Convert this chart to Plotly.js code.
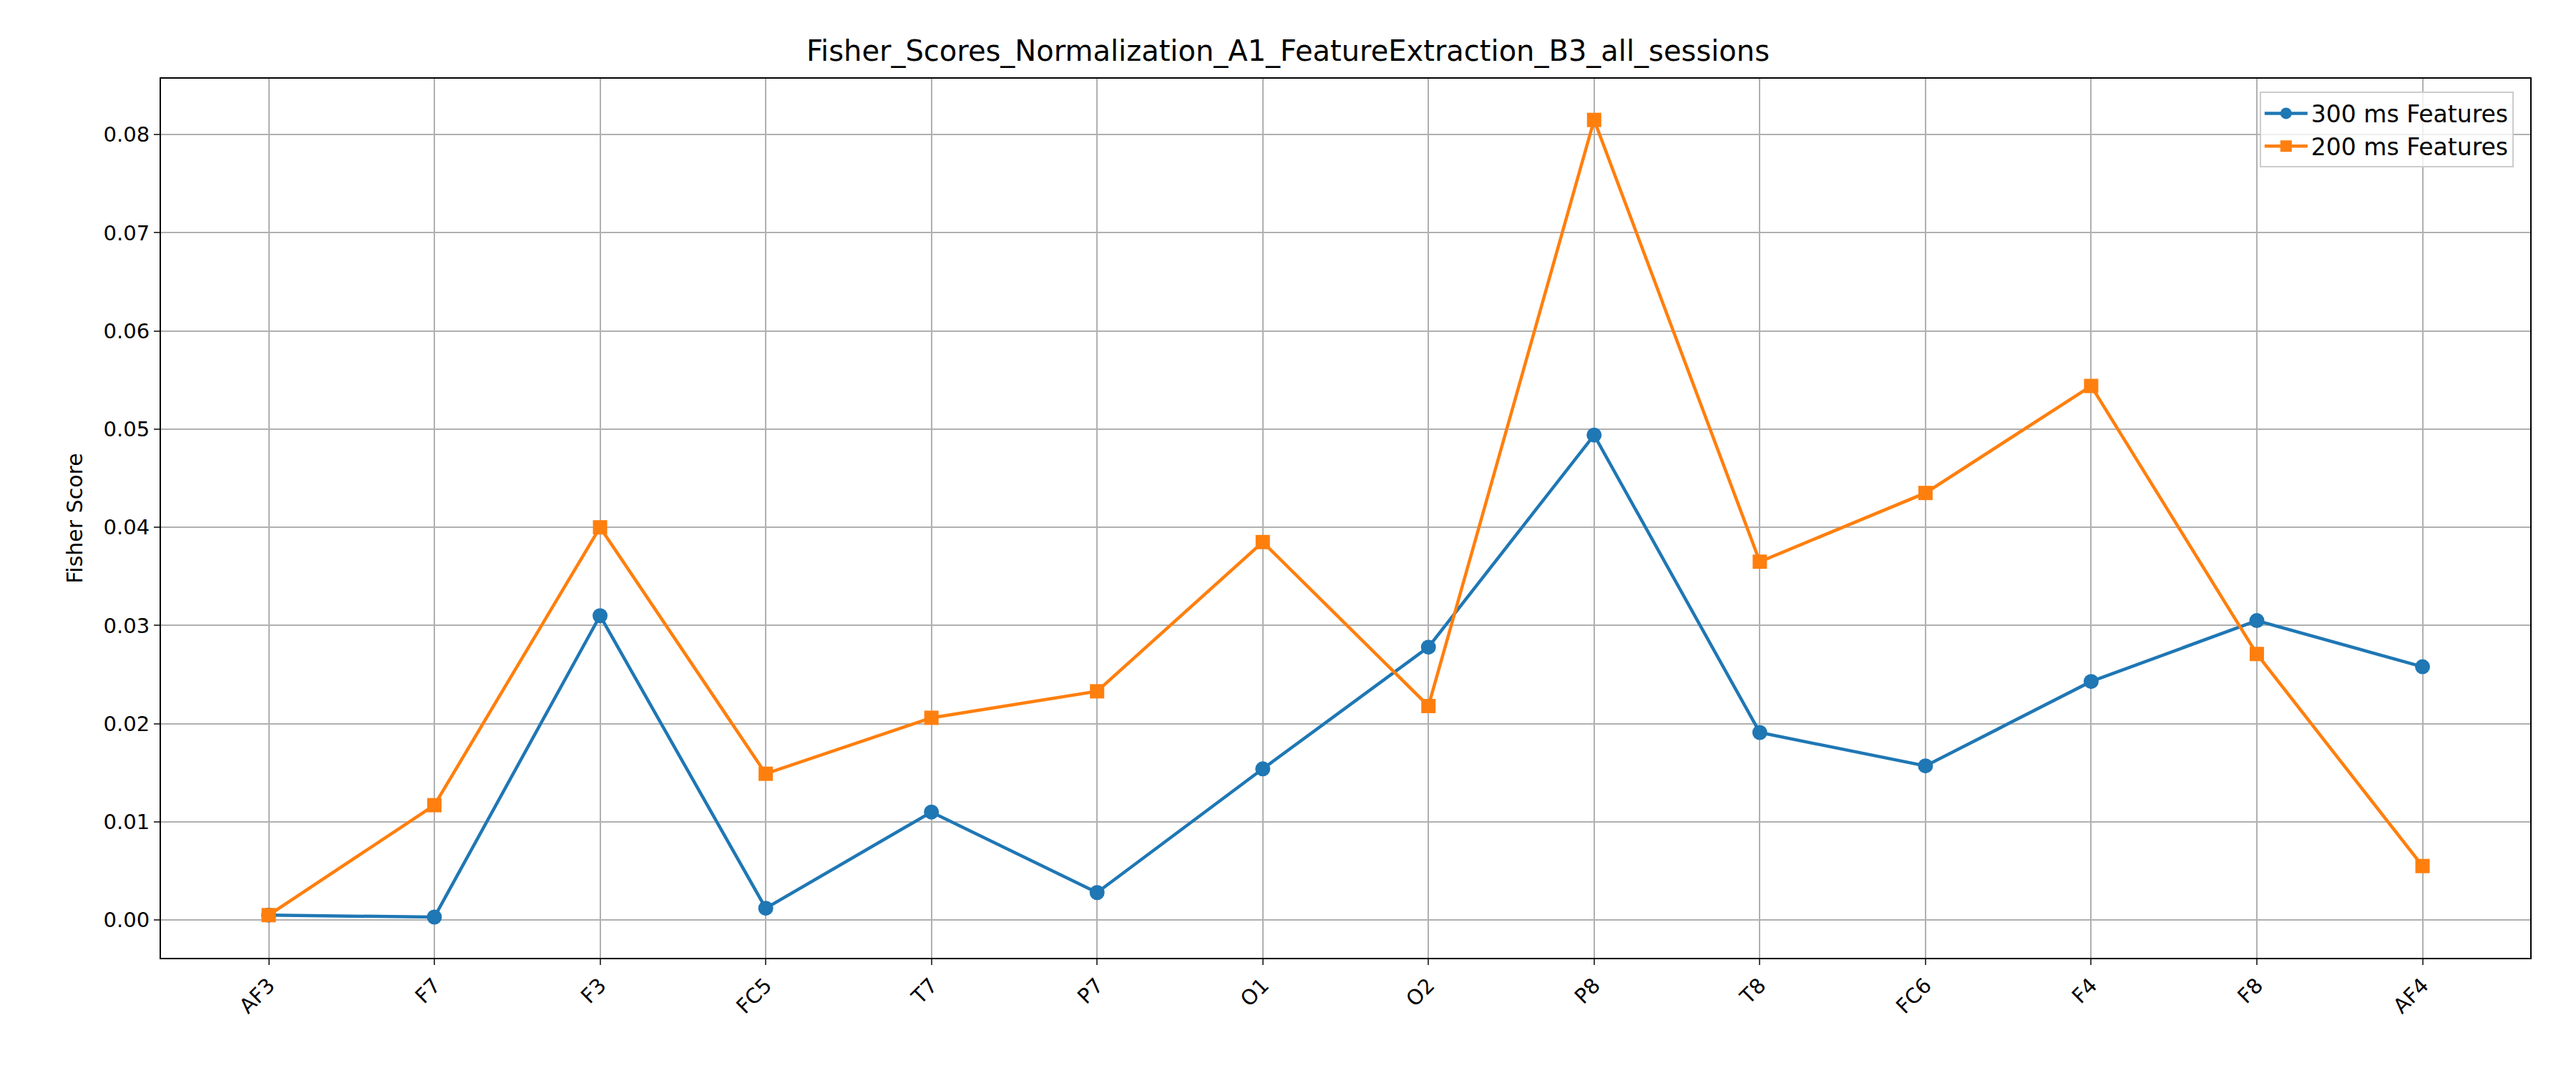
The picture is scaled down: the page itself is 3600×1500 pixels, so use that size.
<!DOCTYPE html>
<html>
<head>
<meta charset="utf-8">
<script src="https://cdn.plot.ly/plotly-3.0.1.min.js"></script>
<style>html,body{margin:0;padding:0;background:#fff}</style>
</head>
<body>
<div id="chart" style="width:3600px;height:1500px"></div>
<script>
var channels = ['AF3', 'F7', 'F3', 'FC5', 'T7', 'P7', 'O1', 'O2', 'P8', 'T8', 'FC6', 'F4', 'F8', 'AF4'];
var scores300 = [0.0005, 0.0003, 0.0310, 0.0012, 0.0110, 0.0028, 0.0154, 0.0278, 0.0494, 0.0191, 0.0157, 0.0243, 0.0305, 0.0258];
var scores200 = [0.0005, 0.0117, 0.0400, 0.0149, 0.0206, 0.0233, 0.0385, 0.0218, 0.0815, 0.0365, 0.0435, 0.0544, 0.0271, 0.0055];

var trace300 = {
  x: channels, y: scores300, type: 'scatter', mode: 'lines+markers',
  name: '300 ms Features',
  line: {color: '#1f77b4', width: 4.5},
  marker: {symbol: 'circle', size: 21, color: '#1f77b4'}
};
var trace200 = {
  x: channels, y: scores200, type: 'scatter', mode: 'lines+markers',
  name: '200 ms Features',
  line: {color: '#ff7f0e', width: 4.5},
  marker: {symbol: 'square', size: 20, color: '#ff7f0e'}
};

var layout = {
  width: 3600, height: 1500,
  font: {family: 'DejaVu Sans', size: 29, color: '#000'},
  paper_bgcolor: '#fff', plot_bgcolor: '#fff',
  margin: {l: 225, r: 64, t: 110, b: 161},
  title: {text: 'Fisher_Scores_Normalization_A1_FeatureExtraction_B3_all_sessions', font: {size: 40}, x: 0.5, y: 0.953, yanchor: 'middle'},
  xaxis: {
    range: [-0.65, 13.65], tickangle: -45, showgrid: true, gridcolor: '#b0b0b0', gridwidth: 2,
    showline: true, mirror: true, linecolor: '#000', linewidth: 2,
    ticks: 'outside', ticklen: 8, tickwidth: 2, zeroline: false
  },
  yaxis: {
    range: [-0.00385, 0.0857], dtick: 0.01, tickformat: '.2f',
    title: {text: 'Fisher Score', font: {size: 30}, standoff: 20},
    showgrid: true, gridcolor: '#b0b0b0', gridwidth: 2,
    showline: true, mirror: true, linecolor: '#000', linewidth: 2,
    ticks: 'outside', ticklen: 8, tickwidth: 2, zeroline: false
  },
  legend: {
    x: 0.993, y: 0.985, xanchor: 'right', yanchor: 'top',
    bgcolor: 'rgba(255,255,255,0.8)', bordercolor: '#ccc', borderwidth: 2,
    font: {size: 33}, itemwidth: 60, tracegroupgap: 10
  },
  showlegend: true
};

Plotly.newPlot('chart', [trace300, trace200], layout, {displayModeBar: false});
</script>
</body>
</html>
